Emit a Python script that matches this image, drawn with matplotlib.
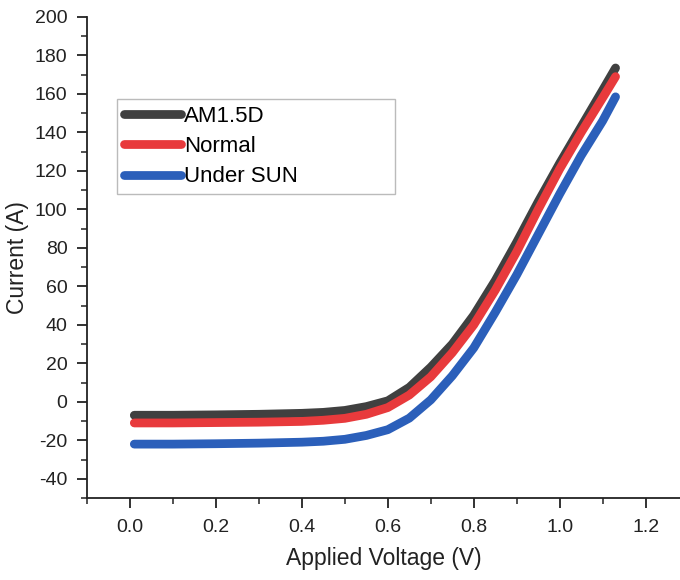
import matplotlib
matplotlib.use("Agg")
import matplotlib.pyplot as plt
from matplotlib.ticker import MultipleLocator, FormatStrFormatter

plt.rcParams['font.family'] = ['Liberation Sans', 'DejaVu Sans']
plt.rcParams['axes.unicode_minus'] = False

# Applied voltage (V) and measured current (A) for each illumination case
voltage = [0.01, 0.1, 0.2, 0.3, 0.4, 0.45, 0.5, 0.55, 0.6, 0.65,
           0.7, 0.75, 0.8, 0.85, 0.9, 0.95, 1.0, 1.05, 1.1, 1.13]
current_am15d = [-7, -7, -6.8, -6.5, -6.0, -5.5, -4.5, -2.5, 0.5, 7.5,
                 18, 30, 45, 63, 83, 104, 124, 143, 162, 173.5]
current_normal = [-11, -11, -10.8, -10.6, -10.2, -9.6, -8.6, -6.5, -3, 3.5,
                  13, 25.5, 40, 58, 78, 100, 121, 140, 158, 169]
current_sun = [-22, -22, -21.8, -21.5, -21, -20.5, -19.5, -17.5, -14.5, -8.5,
               1, 13.5, 28, 46.5, 66, 87, 108, 128, 146, 158.5]

series_labels = ["AM1.5D", "Normal", "Under SUN"]
series_colors = ["#404040", "#e83a3c", "#2b5fba"]

fig = plt.figure(figsize=(6.8, 5.8), dpi=100)
ax = fig.add_axes([0.128, 0.1414, 0.872, 0.8293])

for ys, lab, col in zip([current_am15d, current_normal, current_sun],
                        series_labels, series_colors):
    ax.plot(voltage, ys, color=col, lw=6.3, solid_capstyle='round',
            solid_joinstyle='round', label=lab)

ax.set_xlim(-0.1, 1.28)
ax.set_ylim(-50, 200)
ax.xaxis.set_major_locator(MultipleLocator(0.2))
ax.xaxis.set_minor_locator(MultipleLocator(0.1))
ax.yaxis.set_major_locator(MultipleLocator(20))
ax.yaxis.set_minor_locator(MultipleLocator(10))
ax.xaxis.set_major_formatter(FormatStrFormatter('%.1f'))

for side in ('top', 'right'):
    ax.spines[side].set_visible(False)
for side in ('left', 'bottom'):
    ax.spines[side].set_linewidth(1.3)
    ax.spines[side].set_color('#222222')

ax.tick_params(which='major', direction='out', length=7, width=1.3,
               labelsize=14, colors='#222222')
ax.tick_params(axis='x', which='major', pad=8)
ax.tick_params(axis='y', which='major', pad=7)
ax.tick_params(which='minor', direction='out', length=4, width=1.1,
               colors='#222222')

ax.set_xlabel("Applied Voltage (V)", fontsize=16.5, color='#222222', labelpad=8)
ax.set_ylabel("Current (A)", fontsize=16.5, color='#222222', labelpad=4)

leg = ax.legend(loc='upper left', bbox_to_anchor=(0.0506, 0.634, 0.469, 0.1955),
                mode='expand', borderaxespad=0, fontsize=16, frameon=True,
                fancybox=False, edgecolor='#aaaaaa', handlelength=2.6,
                handletextpad=0.12, labelspacing=0.42, borderpad=0.3)
leg.get_frame().set_linewidth(1.0)

fig.savefig("out.png", dpi=100)
